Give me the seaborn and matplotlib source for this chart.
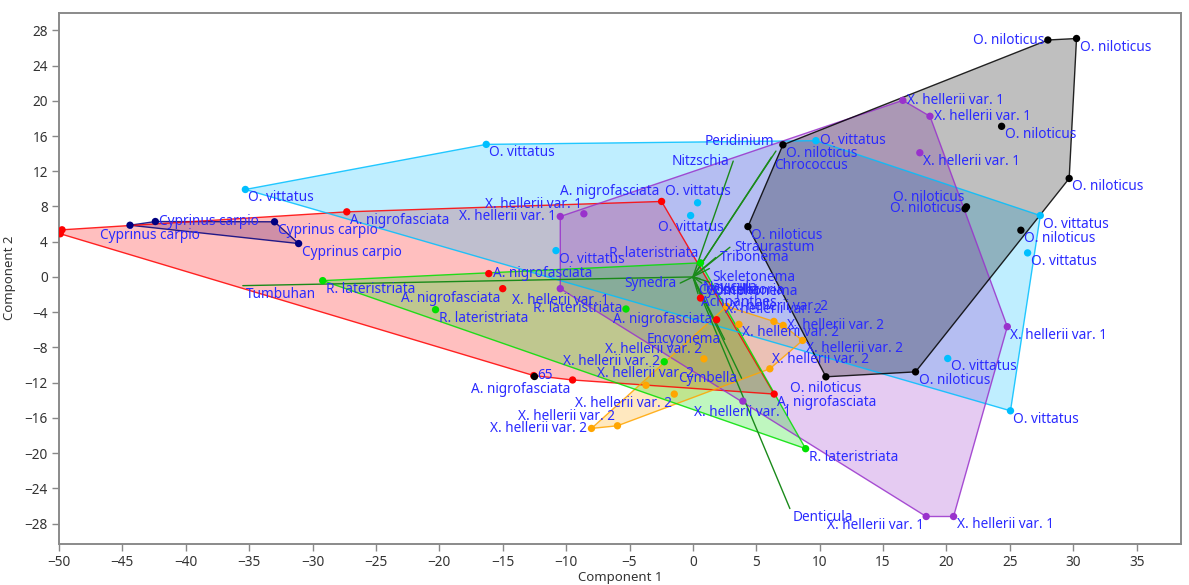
import numpy as np
import pandas as pd
import matplotlib
matplotlib.use("Agg")
import matplotlib.pyplot as plt
import seaborn as sns

# ---------------- data ----------------
cc_x = [-44.4, -42.4, -33.0, -31.1]
cc_y = [5.87, 6.29, 6.26, 3.79]
cc_lab = ["Cyprinus carpio"] * 4

an_x = [-49.76, -49.9, -27.3, -2.47, -16.1, -15.0, 1.87, -9.49, -12.56, 6.41, 0.6]
an_y = [5.35, 4.9, 7.39, 8.57, 0.38, -1.33, -4.86, -11.7, -11.2, -13.3, -2.4]
an_lab = ["", "", "A. nigrofasciata", "A. nigrofasciata", "A. nigrofasciata", "A. nigrofasciata",
          "A. nigrofasciata", "A. nigrofasciata", "65", "A. nigrofasciata", ""]

ov_x = [-35.3, -16.3, 9.7, 27.4, 26.4, 20.1, 25.05, 0.37, -0.18, -10.8]
ov_y = [9.93, 15.05, 15.47, 6.97, 2.73, -9.26, -15.2, 8.42, 6.97, 2.99]
ov_lab = ["O. vittatus"] * 10

x1_x = [16.56, 18.7, 17.9, 24.8, 20.56, 18.4, 3.94, -10.46, -8.6, -10.46]
x1_y = [20.05, 18.24, 14.1, -5.65, -27.2, -27.2, -14.1, 6.86, 7.17, -1.33]
x1_lab = ["X. hellerii var. 1"] * 10

x2_x = [-8.0, -5.95, -3.7, -1.47, 0.87, 6.07, 3.63, 6.39, 7.12, 8.65, 2.66]
x2_y = [-17.2, -16.9, -12.3, -13.3, -9.3, -10.43, -5.39, -5.05, -5.5, -7.21, -3.34]
x2_lab = ["X. hellerii var. 2"] * 11

rl_x = [-29.2, -20.3, -5.28, -2.26, 8.89, 0.6]
rl_y = [-0.42, -3.72, -3.64, -9.63, -19.5, 1.6]
rl_lab = ["R. lateristriata", "R. lateristriata", "R. lateristriata", "X. hellerii var. 2",
          "R. lateristriata", "R. lateristriata"]

on_x = [28.0, 30.26, 24.35, 29.68, 21.58, 21.47, 25.87, 7.1, 4.34, 17.56, 10.49]
on_y = [26.9, 27.07, 17.1, 11.18, 7.96, 7.73, 5.3, 15.0, 5.72, -10.78, -11.34]
on_lab = ["O. niloticus"] * 11

black_point_labels = ["65"]

var_names = ["Tumbuhan", "Peridinium", "Nitzschia", "Chrococcus", "Straurastum", "Tribonema",
             "Skeletonema", "Navicula", "Synedra", "Achnanthes", "Encyonema", "Cymbella",
             "Denticula", "Cyclotella", "Gomphonema", "Oscillatoria"]
var_x = [-35.5, 6.55, 3.18, 6.2, 2.92, 1.8, 1.3, 0.55, -1.0, 0.4, 2.5, 3.84, 7.65,
         0.2, 0.7, 1.3]
var_y = [-0.99, 14.29, 13.15, 13.6, 3.37, 2.2, 0.95, -0.2, -0.7, -1.9, -7.1, -11.5, -26.3,
         -0.6, -0.7, -0.6]

# ---------------- layout of labels (placement codes) ----------------
cc_pos = ["bc", "r", "br", "br"]
an_pos = ["br", "br", "br", "al", "r", "bl", "l", "bl", "r", "br", "br"]
ov_pos = ["br", "br", "r", "br", "br", "br", "br", "a", "b", "br"]
x1_pos = ["r", "r", "br", "br", "br", "bl", "b", "l", "al", "b"]
x2_pos = ["l", "al", "a", "bl", "al", "ar", "br", "a", "r", "br", "r"]
rl_pos = ["br", "br", "l", "l", "br", "al"]
on_pos = ["l", "br", "br", "br", "al", "l", "br", "br", "br", "br", "b"]
var_pos = ["br", "al", "l", "br", "r", "r", "br", "br", "l", "br", "l", "l", "br",
           "br", "br", "br"]

groups = [
    ("Cyprinus carpio", cc_x, cc_y, cc_lab, cc_pos, "#000080"),
    ("A. nigrofasciata", an_x, an_y, an_lab, an_pos, "#FF0000"),
    ("O. vittatus", ov_x, ov_y, ov_lab, ov_pos, "#00BFFF"),
    ("X. hellerii var. 1", x1_x, x1_y, x1_lab, x1_pos, "#9932CC"),
    ("X. hellerii var. 2", x2_x, x2_y, x2_lab, x2_pos, "#FFA500"),
    ("R. lateristriata", rl_x, rl_y, rl_lab, rl_pos, "#00E000"),
    ("O. niloticus", on_x, on_y, on_lab, on_pos, "#000000"),
]

POS = {
    "br": (3, -1, "left", "top"),
    "bc": (20, -3, "center", "top"),
    "r": (4, 0, "left", "center"),
    "l": (-4, 0, "right", "center"),
    "al": (-2, 2, "right", "bottom"),
    "ar": (2, 2, "left", "bottom"),
    "bl": (-2, -2, "right", "top"),
    "b": (0, -4, "center", "top"),
    "a": (0, 4, "center", "bottom"),
}


def convex_hull(pts):
    pts = sorted(set(map(tuple, pts)))
    if len(pts) < 3:
        return pts
    def cross(o, a, b):
        return (a[0] - o[0]) * (b[1] - o[1]) - (a[1] - o[1]) * (b[0] - o[0])
    lower, upper = [], []
    for p in pts:
        while len(lower) >= 2 and cross(lower[-2], lower[-1], p) <= 0:
            lower.pop()
        lower.append(p)
    for p in reversed(pts):
        while len(upper) >= 2 and cross(upper[-2], upper[-1], p) <= 0:
            upper.pop()
        upper.append(p)
    return lower[:-1] + upper[:-1]


sns.set_style("white")
plt.rcParams["font.family"] = ["Noto Sans", "DejaVu Sans"]

DPI = 100
fig = plt.figure(figsize=(11.89, 5.85), dpi=DPI)
ax = fig.add_axes([59 / 1189, 1 - 543.8 / 585, (1181 - 59) / 1189, (543.8 - 12.7) / 585])

rows = []
for name, gx, gy, glab, gpos, col in groups:
    for xx, yy, ll in zip(gx, gy, glab):
        rows.append({"x": xx, "y": yy, "group": name, "label": ll})
df = pd.DataFrame(rows)
palette = {g[0]: g[5] for g in groups}

# hulls
for name, gx, gy, glab, gpos, col in groups:
    hull = convex_hull(list(zip(gx, gy)))
    hx = [p[0] for p in hull] + [hull[0][0]]
    hy = [p[1] for p in hull] + [hull[0][1]]
    ax.fill(hx, hy, color=col, alpha=0.25, lw=0, zorder=1)
    ax.plot(hx, hy, color=col, lw=1.0, zorder=2, alpha=0.85)

# biplot vectors
for vx, vy in zip(var_x, var_y):
    ax.plot([0, vx], [0, vy], color="#1a8a1a", lw=1.0, zorder=3)

# points
sns.scatterplot(data=df, x="x", y="y", hue="group", palette=palette, s=28, linewidth=0,
                legend=False, ax=ax, zorder=4)
blk = df[df["label"].isin(black_point_labels)]
sns.scatterplot(data=blk, x="x", y="y", color="black", s=28, linewidth=0, legend=False,
                ax=ax, zorder=5)

TXT = "#2a2aff"
FS = 9.8
k = 72.0 / DPI
for name, gx, gy, glab, gpos, col in groups:
    for xx, yy, ll, pp in zip(gx, gy, glab, gpos):
        if not ll:
            continue
        dx, dy, ha, va = POS[pp]
        ax.annotate(ll, (xx, yy), xytext=(dx * k, dy * k), textcoords="offset points",
                    ha=ha, va=va, color=TXT, fontsize=FS, zorder=6)
for nm, vx, vy, pp in zip(var_names, var_x, var_y, var_pos):
    dx, dy, ha, va = POS[pp]
    ax.annotate(nm, (vx, vy), xytext=(dx * k, dy * k), textcoords="offset points",
                ha=ha, va=va, color=TXT, fontsize=FS, zorder=6)

ax.set_xlim(-50, 38.5)
ax.set_ylim(-30.3, 30.0)
ax.set_xticks(np.arange(-50, 36, 5))
ax.set_yticks(np.arange(-28, 29, 4))
ax.tick_params(direction="out", length=5, width=1, color="#888888", labelcolor="#333333",
               labelsize=9.8, bottom=True, left=True, pad=3)
for s in ax.spines.values():
    s.set_color("#8a8a8a")
    s.set_linewidth(1.4)
ax.set_xlabel("Component 1", fontsize=9.5, color="#333333", labelpad=1)
ax.set_ylabel("Component 2", fontsize=9.5, color="#333333", labelpad=6)

fig.savefig("out.png", dpi=DPI)
